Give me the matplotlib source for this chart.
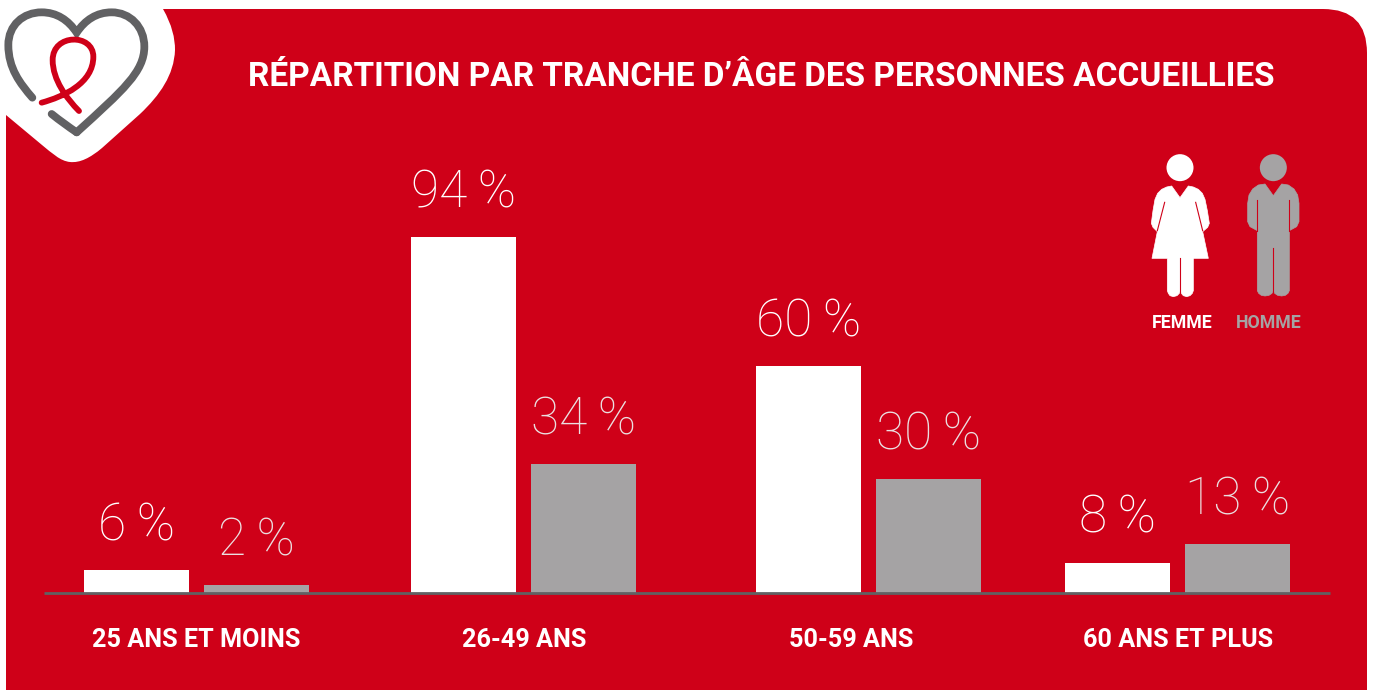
import numpy as np
import matplotlib
matplotlib.use('Agg')
from matplotlib import pyplot as plt
from matplotlib.patches import Circle, FancyBboxPatch, PathPatch, Rectangle
from matplotlib.path import Path

# chart data
categories = ['25 ANS ET MOINS', '26-49 ANS', '50-59 ANS', '60 ANS ET PLUS']
femmes = [6, 94, 60, 8]
hommes = [2, 34, 30, 13]
title = 'RÉPARTITION PAR TRANCHE D’ÂGE DES PERSONNES ACCUEILLIES'

W, H = 1373, 690
RED = '#cf0018'
GREY = '#a5a3a4'
DARK = '#616163'

# layout, in pixels
left_edges = [84, 411, 756, 1065]
label_x = [196, 524, 851, 1178]
bar_w = 105
gap = 15
px_per_pct = 3.787
base_y = 593

fig = plt.figure(figsize=(W / 100, H / 100), dpi=100, facecolor='white')

# background layer in pixel coordinates
bg = fig.add_axes([0, 0, 1, 1])
bg.set_xlim(0, W)
bg.set_ylim(H, 0)
bg.axis('off')
bg.add_patch(FancyBboxPatch((6 + 44, 9 + 44), 1361 - 88, 760, boxstyle='round,pad=44,rounding_size=44', fc=RED, ec='none'))
bg.add_patch(Rectangle((6, 9), 100, 300, fc=RED, ec='none'))

# white blob behind the logo
blob = [(Path.MOVETO, (0, 0)), (Path.LINETO, (163, 0)), (Path.LINETO, (163, 9)),
        (Path.CURVE4, (172, 25)), (Path.CURVE4, (175, 38)), (Path.CURVE4, (175, 50)),
        (Path.CURVE4, (174, 75)), (Path.CURVE4, (160, 95)), (Path.CURVE4, (140, 114)),
        (Path.LINETO, (102, 148)),
        (Path.CURVE4, (90, 158)), (Path.CURVE4, (80, 163)), (Path.CURVE4, (70, 162)),
        (Path.CURVE4, (60, 161)), (Path.CURVE4, (52, 153)), (Path.CURVE4, (42, 145)),
        (Path.LINETO, (6, 115)), (Path.LINETO, (0, 115)), (Path.CLOSEPOLY, (0, 0))]
bg.add_patch(PathPatch(Path([p for c, p in blob], [c for c, p in blob]), fc='white', ec='none'))


def curve(points, color, width):
    # points are given as in a 3x crop of the logo
    codes = [Path.MOVETO] + [Path.CURVE4] * (len(points) - 1)
    pts = [(x / 3, y / 3) for x, y in points]
    bg.add_patch(PathPatch(Path(pts, codes), fc='none', ec=color, lw=width, capstyle='round', joinstyle='miter'))


curve([(97, 293), (60, 250), (25, 205), (25, 135),
       (25, 75), (70, 37), (125, 37),
       (170, 37), (205, 60), (230, 98),
       (255, 60), (290, 37), (335, 37),
       (390, 37), (433, 80), (433, 140),
       (433, 215), (370, 270), (230, 397)], DARK, 5.6)
curve([(230, 397), (205, 380), (180, 362), (155, 342)], DARK, 5.6)
curve([(125, 308), (190, 290), (280, 250), (280, 170),
       (280, 100), (158, 100), (158, 180),
       (158, 240), (200, 295), (237, 333)], RED, 4.2)

bg.text(761.5, 77, title, color='white', ha='center', va='center',
        fontsize=24.05, family='Roboto', weight='bold')


def silhouette(points, color):
    pts = [(1130 + x / 3, 140 + y / 3) for x, y in points]
    bg.add_patch(plt.Polygon(pts, closed=True, fc=color, ec=color, lw=0.5, joinstyle='round'))


def slit(x0, y0, x1, y1):
    bg.plot([1130 + x0 / 3, 1130 + x1 / 3], [140 + y0 / 3, 140 + y1 / 3], color=RED, lw=0.8)


bg.add_patch(Circle((1130 + 150 / 3, 140 + 83 / 3), 13.5, fc='white', ec='none'))
silhouette([(125, 138), (150, 173), (175, 138), (190, 141), (205, 148), (217, 160), (225, 178), (232, 212), (238, 250), (233, 262), (218, 275),
            (235, 355), (190, 355), (190, 452), (187, 460), (180, 467), (170, 470), (160, 467), (154, 460), (151, 452), (148, 460), (141, 467), (130, 470),
            (120, 467), (115, 460), (112, 452), (112, 355), (66, 355), (82, 275), (69, 262), (64, 250), (69, 212), (75, 178), (83, 160), (95, 148), (110, 141)], 'white')
slit(104, 187, 82, 272)
slit(197, 187, 218, 272)
slit(151, 355, 151, 470)

bg.add_patch(Circle((1130 + 430 / 3, 140 + 83 / 3), 13.5, fc=GREY, ec='none'))
silhouette([(405, 132), (430, 167), (455, 132), (475, 135), (492, 147), (503, 165), (507, 190), (507, 245), (500, 260), (478, 272),
            (478, 452), (474, 460), (466, 466), (455, 468), (443, 466), (434, 460), (430, 452), (426, 460), (417, 466), (405, 468), (394, 466), (386, 460), (382, 452),
            (382, 272), (360, 260), (353, 245), (353, 190), (357, 165), (368, 147), (385, 135)], GREY)
slit(382, 180, 382, 272)
slit(478, 180, 478, 272)
slit(430, 325, 430, 468)

bg.text(1182.5, 323.5, 'FEMME', color='white', ha='center', va='center', fontsize=12.8, family='Roboto', weight='bold')
bg.text(1268.5, 323.5, 'HOMME', color=GREY, ha='center', va='center', fontsize=12.8, family='Roboto', weight='bold')

# bar chart, y axis in percent
ax = fig.add_axes([44 / W, (H - base_y) / H, 1286 / W, base_y / H])
ax.patch.set_alpha(0)
ax.set_xlim(44, 1330)
ax.set_ylim(0, base_y / px_per_pct)
for s in ['top', 'left', 'right']:
    ax.spines[s].set_visible(False)
ax.spines['bottom'].set_color(DARK)
ax.spines['bottom'].set_linewidth(2)
ax.spines['bottom'].set_capstyle('butt')
ax.set_yticks([])

x_f = np.array(left_edges) + bar_w / 2
x_h = x_f + bar_w + gap
ax.bar(x_f, femmes, width=bar_w, color='white')
ax.bar(x_h, hommes, width=bar_w, color=GREY)

for x, v in zip(x_f, femmes):
    ax.annotate(f'{v}\u2009%', (x, v), xytext=(0, 31.5), textcoords='offset points', ha='center', va='center',
                color='white', fontsize=37, family='Roboto', weight=100)
for x, v in zip(x_h, hommes):
    ax.annotate(f'{v}\u2009%', (x, v), xytext=(0, 31.5), textcoords='offset points', ha='center', va='center',
                color='#ebdfe0', fontsize=37, family='Roboto', weight=100)

ax.set_xticks(label_x)
ax.set_xticklabels(categories, color='white', fontsize=18.2, family='Roboto', weight='bold')
ax.tick_params(axis='x', length=0, pad=25.5)

fig.savefig('out.png', dpi=100, facecolor='white')
